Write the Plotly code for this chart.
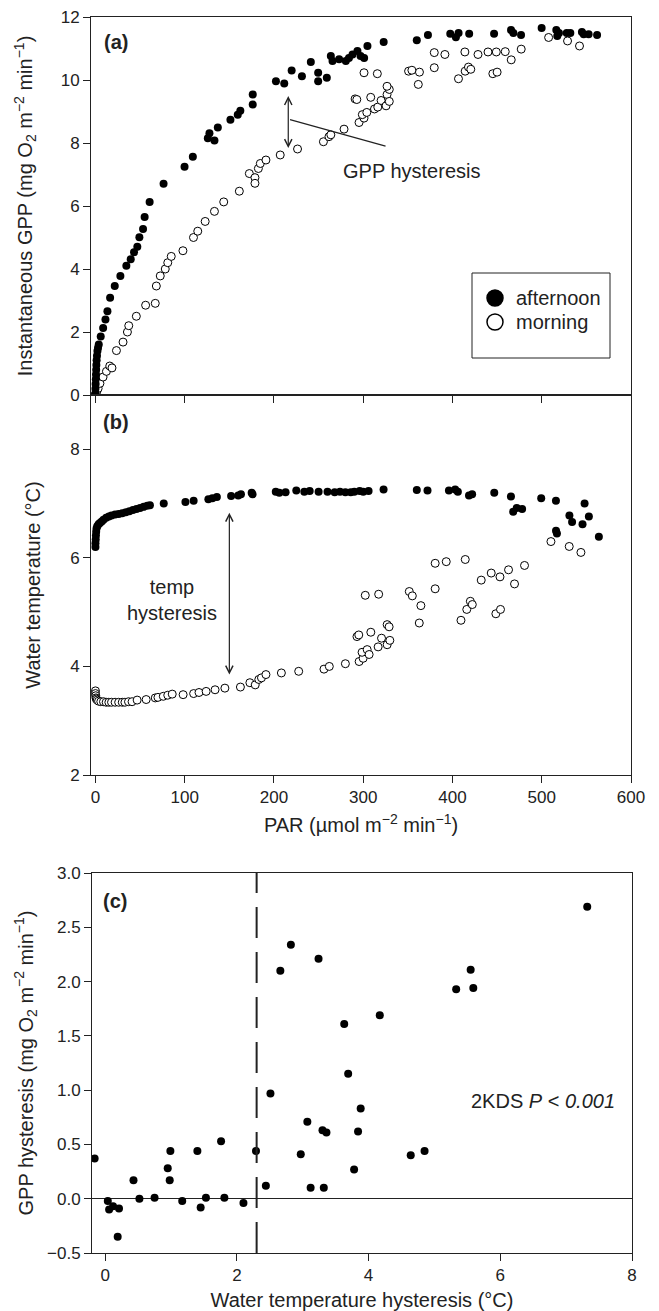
import plotly.graph_objects as go

W, H = 659, 1311
FONT = "Liberation Sans, Arial, sans-serif"

# ---- panel (a): PAR vs instantaneous GPP
aft_par_a = [0, 0, 0.2, 0.4, 0.6, 0.8, 1, 1.3, 1.7, 2.2, 2.9, 3.7, 5.9, 8.6, 11.2, 13.4, 16.4,
             21.6, 27.9, 34.6, 39.5, 43.2, 46.9, 49.2, 53.3, 55.1, 60.7, 76.3, 99.8, 109.1,
             125.9, 127.7, 133.3, 137.1, 151.2, 159.4, 162.3, 176.2, 176.2, 202.2, 211.5,
             219.8, 231.3, 241.3, 249.5, 249.5, 259.2, 263.7, 265.6, 273, 280.5, 284, 288,
             293.5, 297, 301, 304.7, 322.9, 360, 372.5, 397.5, 403.8, 406.8, 418.7, 446.6,
             465.6, 468.2, 476.8, 499.9, 516.3, 517.4, 519.3, 528, 532, 545, 547, 552.5, 562]
aft_gpp = [0.05, 0.2, 0.35, 0.5, 0.65, 0.8, 0.95, 1.1, 1.25, 1.4, 1.5, 1.6, 1.86, 2.13, 2.4,
           2.66, 3.09, 3.46, 3.78, 4.1, 4.31, 4.53, 4.71, 5.01, 5.27, 5.65, 6.13, 6.71, 7.25,
           7.56, 8.15, 8.31, 8.08, 8.49, 8.74, 8.9, 9.02, 9.22, 9.54, 9.96, 9.89, 10.3, 10.12,
           10.57, 10.23, 9.96, 10.07, 10.76, 10.6, 10.66, 10.6, 10.7, 10.81, 10.92, 10.76,
           10.7, 11.08, 11.21, 11.26, 11.43, 11.47, 11.36, 11.49, 11.47, 11.47, 11.59, 11.49,
           11.43, 11.65, 11.59, 11.4, 11.49, 11.49, 11.49, 11.52, 11.45, 11.45, 11.43]

morn_par_a = [0, 0.5, 1.5, 3, 5, 8.5, 12.3, 16, 18.5, 23.5, 30.9, 35.8, 37.3, 45.8, 56.2, 67,
              68.2, 72.6, 78.2, 81, 84.9, 98, 109.8, 114.6, 122.9, 133.3, 143.7, 161.2, 172.4,
              178.7, 178.7, 182.5, 184.7, 191, 207, 226.4, 255.4, 261.6, 263.7, 278.5, 295.3,
              300.9, 299, 304, 312.6, 316.3, 320, 325.6, 326.7, 329.2, 329.2, 326.7, 290.9,
              292.8, 308.4, 300.9, 315.8, 350.8, 354.5, 363, 361.7, 379.6, 379.6, 391.5, 413.9,
              406.7, 414.2, 417.9, 420.5, 428.6, 439.8, 449.1, 459.1, 465.8, 477, 445.2, 450,
              507.7, 528.9, 542.3]
morn_gpp = [0.02, 0.06, 0.12, 0.21, 0.37, 0.57, 0.75, 0.92, 0.86, 1.41, 1.68, 2.0, 2.2, 2.5,
            2.85, 2.91, 3.46, 3.78, 4.0, 4.2, 4.4, 4.58, 5.0, 5.2, 5.51, 5.83, 6.13, 6.47, 7.03,
            6.9, 6.72, 7.19, 7.35, 7.46, 7.62, 7.81, 8.04, 8.2, 8.26, 8.44, 8.65, 8.79, 8.9,
            8.97, 9.08, 9.14, 9.35, 9.18, 9.54, 9.32, 9.7, 9.8, 9.4, 9.38, 9.45, 10.23, 10.2,
            10.28, 10.31, 10.25, 9.86, 10.39, 10.87, 10.81, 10.89, 10.04, 10.28, 10.41, 10.34,
            10.81, 10.89, 10.89, 10.9, 10.64, 10.98, 10.2, 10.25, 11.35, 11.24, 11.08]

# ---- panel (b): PAR vs water temperature
aft_par_b = [0, 0, 0.3, 0.5, 0.8, 1.2, 2, 3.5, 5, 7, 9, 12, 15, 18, 22, 26, 30, 34, 38, 42, 46,
             50, 54, 58, 61, 76.5, 100.8, 110, 126.5, 131, 136, 152, 160, 163, 175, 176, 202,
             206, 213, 225, 234, 240, 250, 260, 268, 274, 280, 286, 290, 296, 300, 306, 322.8,
             360, 372, 396, 403, 406, 418.5, 422, 446.8, 465.5, 468, 472, 478, 499.4, 515.9,
             516, 517, 531, 534, 545.7, 548, 552.8, 564]
aft_temp = [6.2, 6.27, 6.34, 6.41, 6.48, 6.54, 6.58, 6.62, 6.64, 6.67, 6.7, 6.74, 6.76, 6.78,
            6.8, 6.81, 6.82, 6.84, 6.86, 6.88, 6.9, 6.92, 6.94, 6.96, 6.97, 7.0, 7.03, 7.05,
            7.08, 7.1, 7.12, 7.14, 7.15, 7.17, 7.2, 7.17, 7.22, 7.2, 7.21, 7.24, 7.22, 7.23,
            7.22, 7.22, 7.21, 7.22, 7.21, 7.21, 7.22, 7.23, 7.22, 7.23, 7.26, 7.25, 7.24, 7.24,
            7.26, 7.22, 7.15, 7.17, 7.2, 7.13, 6.85, 6.92, 6.9, 7.1, 7.05, 6.5, 6.45, 6.78,
            6.66, 6.62, 7.0, 6.76, 6.39]

morn_par_b = [0, 0, 0.3, 0.6, 1, 2, 3.5, 6, 9, 12, 15, 18, 22, 26, 30, 33, 37, 41, 46.7, 56.8,
              67, 70, 76, 81, 86, 98.2, 110, 116, 124, 134, 145, 162.4, 173, 179, 183, 186,
              191, 208.3, 227.7, 256, 262, 280, 293, 295, 295.4, 299.9, 298.7, 304.4, 306.6,
              302.3, 308.5, 317.3, 316.7, 320.5, 326.8, 326.8, 329, 329.8, 351.6, 355, 362.8,
              364.6, 380.6, 393, 380.6, 409.5, 416, 420, 422.2, 414.3, 432.2, 443.4, 448.6,
              453.8, 453.2, 462.8, 469.5, 480.7, 510.3, 530.8, 543.9]
morn_temp = [3.55, 3.5, 3.46, 3.42, 3.4, 3.38, 3.36, 3.35, 3.35, 3.34, 3.34, 3.34, 3.34, 3.34,
             3.34, 3.34, 3.35, 3.35, 3.38, 3.39, 3.42, 3.43, 3.45, 3.47, 3.49, 3.48, 3.5, 3.52,
             3.54, 3.57, 3.6, 3.62, 3.7, 3.66, 3.76, 3.79, 3.85, 3.88, 3.91, 3.95, 4.0, 4.05,
             4.55, 4.58, 4.09, 4.15, 4.26, 4.31, 4.22, 5.31, 4.63, 5.33, 4.36, 4.52, 4.4, 4.77,
             4.73, 4.48, 5.38, 5.3, 4.8, 5.12, 5.9, 5.93, 5.43, 4.85, 5.05, 5.2, 5.14, 5.97,
             5.59, 5.72, 4.97, 5.05, 5.65, 5.78, 5.52, 5.86, 6.3, 6.21, 6.1]

# ---- panel (c): temperature hysteresis vs GPP hysteresis
temp_hyst = [-0.16, 0.04, 0.06, 0.12, 0.21, 0.19, 0.43, 0.52, 0.75, 0.95, 0.99, 0.98, 1.17,
             1.4, 1.45, 1.53, 1.76, 1.81, 2.1, 2.29, 2.44, 2.51, 2.66, 2.82, 3.24, 2.97, 3.07,
             3.12, 3.3, 3.36, 3.32, 3.63, 3.69, 3.88, 3.84, 3.78, 4.17, 4.64, 4.85, 5.33, 5.55,
             5.59, 7.32]
gpp_hyst = [0.37, -0.02, -0.1, -0.07, -0.09, -0.35, 0.17, 0.0, 0.01, 0.28, 0.44, 0.17, -0.02,
            0.44, -0.08, 0.01, 0.53, 0.01, -0.04, 0.44, 0.12, 0.97, 2.1, 2.34, 2.21, 0.41, 0.71,
            0.1, 0.63, 0.61, 0.1, 1.61, 1.15, 0.83, 0.62, 0.27, 1.69, 0.4, 0.44, 1.93, 2.11,
            1.94, 2.69]
threshold = 2.3

legend_names = ["afternoon", "morning"]

UNITS = "(mg O<sub>2</sub> m<sup>\u22122</sup> min<sup>\u22121</sup>)"

filled = dict(size=8, color="black", line=dict(width=0))
hollow = dict(size=8, color="white", line=dict(width=1, color="black"))

fig = go.Figure()
fig.add_trace(go.Scatter(x=morn_par_a, y=morn_gpp, mode="markers", marker=hollow,
                         xaxis="x", yaxis="y", name="morning", showlegend=False))
fig.add_trace(go.Scatter(x=aft_par_a, y=aft_gpp, mode="markers", marker=filled,
                         xaxis="x", yaxis="y", name="afternoon", showlegend=False))
fig.add_trace(go.Scatter(x=morn_par_b, y=morn_temp, mode="markers", marker=hollow,
                         xaxis="x2", yaxis="y2", name="morning", showlegend=False))
fig.add_trace(go.Scatter(x=aft_par_b, y=aft_temp, mode="markers", marker=filled,
                         xaxis="x2", yaxis="y2", name="afternoon", showlegend=False))
fig.add_trace(go.Scatter(x=temp_hyst, y=gpp_hyst, mode="markers", marker=filled,
                         xaxis="x3", yaxis="y3", showlegend=False))


# pixel -> paper helpers
def px_x(p):
    return p / W


def px_y(p):
    return 1 - p / H


axis_common = dict(showline=True, linecolor="#222", linewidth=1, mirror=True, ticks="outside",
                   ticklen=7, tickwidth=1, tickcolor="#222", showgrid=False, zeroline=False,
                   automargin=False, ticklabeloverflow="allow",
                   tickfont=dict(size=17, color="#222", family=FONT))

fig.update_layout(
    width=W, height=H, margin=dict(l=0, r=0, t=0, b=0),
    paper_bgcolor="white", plot_bgcolor="white",
    font=dict(family=FONT, color="#222"),
    showlegend=False,
    xaxis=dict(axis_common, domain=[px_x(91), px_x(631)], range=[-5, 600], dtick=100,
               showticklabels=False, anchor="y"),
    yaxis=dict(axis_common, domain=[px_y(395), px_y(17)], range=[0, 12], dtick=2, anchor="x",
               title=dict(text="Instantaneous GPP " + UNITS, font=dict(size=20), standoff=22)),
    xaxis2=dict(axis_common, domain=[px_x(91), px_x(631)], range=[-5, 600], dtick=100,
                anchor="y2",
                title=dict(text="PAR (\u00b5mol m<sup>\u22122</sup> min<sup>\u22121</sup>)",
                           font=dict(size=20), standoff=11)),
    yaxis2=dict(axis_common, domain=[px_y(775), px_y(395)], range=[2, 9], dtick=2, anchor="x2",
                title=dict(text="Water temperature (\u00b0C)", font=dict(size=20), standoff=24)),
    xaxis3=dict(axis_common, domain=[px_x(92), px_x(632)], range=[-0.2, 8], dtick=2,
                anchor="y3",
                title=dict(text="Water temperature hysteresis (\u00b0C)", font=dict(size=20),
                           standoff=11)),
    yaxis3=dict(axis_common, domain=[px_y(1253), px_y(873)], range=[-0.5, 3], dtick=0.5,
                tickformat=".1f", anchor="x3", zeroline=True, zerolinecolor="#222",
                zerolinewidth=1,
                title=dict(text="GPP hysteresis " + UNITS, font=dict(size=20), standoff=8)),
)

# legend box drawn by hand (symbols larger than the data markers)
fig.add_shape(type="rect", xref="paper", yref="paper",
              x0=px_x(472), x1=px_x(610), y0=px_y(358), y1=px_y(273),
              line=dict(color="#222", width=1))
for name, cy, fill in [(legend_names[0], 298, "black"), (legend_names[1], 322, "white")]:
    fig.add_shape(type="circle", xref="paper", yref="paper",
                  x0=px_x(487), x1=px_x(503), y0=px_y(cy + 8), y1=px_y(cy - 8),
                  fillcolor=fill, line=dict(color="black", width=1.5))
    fig.add_annotation(x=px_x(514), y=px_y(cy), xref="paper", yref="paper", text=name,
                       xanchor="left", yanchor="middle", showarrow=False,
                       font=dict(size=20, color="#222"))

# threshold line in (c)
fig.add_shape(type="line", xref="x3", yref="y3", x0=threshold, x1=threshold, y0=-0.5, y1=3,
              line=dict(color="#222", width=2, dash="31px,14px"))

# GPP hysteresis arrow + pointer
fig.add_annotation(x=216, y=7.84, ax=216, ay=9.54, xref="x", yref="y", axref="x", ayref="y",
                   text="", showarrow=True, arrowhead=5, startarrowhead=5,
                   arrowside="end+start", arrowwidth=1.2, arrowcolor="#222", arrowsize=1.2,
                   startarrowsize=1.2)
fig.add_shape(type="line", xref="x", yref="y", x0=218, y0=8.74, x1=325, y1=7.9,
              line=dict(color="#222", width=1.2))
fig.add_annotation(x=354, y=7.12, xref="x", yref="y", text="GPP hysteresis", showarrow=False,
                   font=dict(size=20, color="#222"))

# temp hysteresis arrow
fig.add_annotation(x=150, y=3.85, ax=150, ay=6.86, xref="x2", yref="y2", axref="x2",
                   ayref="y2", text="", showarrow=True, arrowhead=5, startarrowhead=5,
                   arrowside="end+start", arrowwidth=1.2, arrowcolor="#222", arrowsize=1.2,
                   startarrowsize=1.2)
fig.add_annotation(x=86, y=5.22, xref="x2", yref="y2", text="temp<br>hysteresis",
                   showarrow=False, font=dict(size=20, color="#222"))

# panel labels
for lab, xr, yr, xv, yv in [("(a)", "x", "y", 23, 11.2), ("(b)", "x2", "y2", 23, 8.5),
                            ("(c)", "x3", "y3", 0.15, 2.74)]:
    fig.add_annotation(x=xv, y=yv, xref=xr, yref=yr, text="<b>" + lab + "</b>",
                       showarrow=False, font=dict(size=20, color="#222"))

fig.add_annotation(x=6.65, y=0.9, xref="x3", yref="y3",
                   text="2KDS <i>P</i> &lt; <i>0.001</i>", showarrow=False,
                   font=dict(size=20, color="#222"))

# drop the browser's default 8px page margin so the figure fills the window exactly
fig.write_html("out.html", config={"displayModeBar": False},
               post_script="document.body.style.margin = '0px';")
